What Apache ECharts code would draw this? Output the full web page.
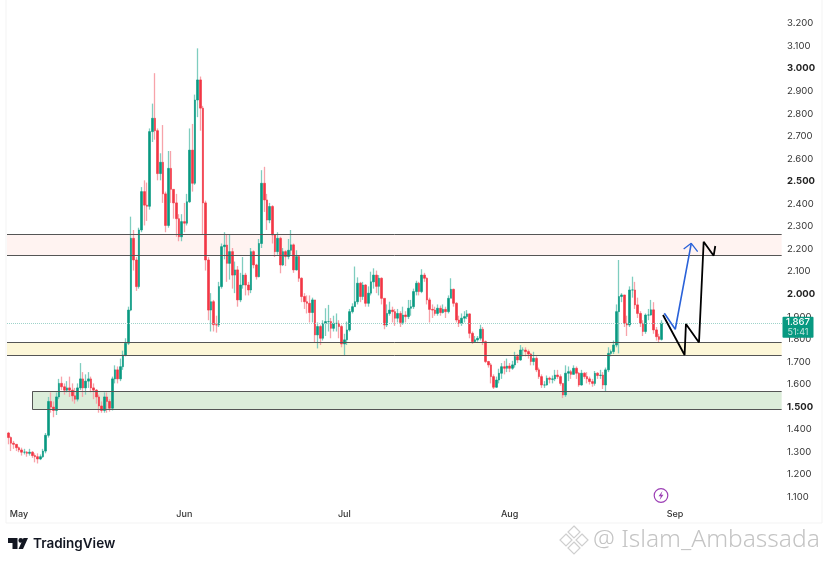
<!DOCTYPE html>
<html><head><meta charset="utf-8">
<style>html,body{margin:0;padding:0;background:#fff}#c{width:829px;height:564px}</style>
<script src="https://cdn.jsdelivr.net/npm/echarts@6/dist/echarts.min.js"></script>
</head><body><div id="c"></div>
<script>
const monthLabels=['May','Jun','Jul','Aug','Sep'];
const monthIndex=[4,66,126,188,250];
const slotCount=291;
const opens=[1.38,1.36,1.335,1.33,1.315,1.305,1.295,1.295,1.29,1.295,1.28,1.275,1.265,1.275,1.30,
1.37,1.52,1.495,1.48,1.54,1.60,1.585,1.57,1.58,1.57,1.545,1.53,1.58,1.62,1.58,
1.61,1.62,1.58,1.57,1.54,1.50,1.48,1.54,1.52,1.49,1.62,1.66,1.62,1.674,1.726,
1.778,1.925,2.243,2.147,2.029,2.28,2.45,2.39,2.385,2.716,2.775,2.72,2.53,2.58,2.44,
2.30,2.553,2.46,2.40,2.33,2.25,2.317,2.31,2.405,2.634,2.487,2.856,2.945,2.82,2.40,
2.147,1.925,1.962,1.86,1.859,2.029,2.206,2.213,2.132,2.184,2.08,2.103,1.97,2.036,2.08,
2.036,2.014,2.184,2.125,2.073,2.22,2.487,2.413,2.324,2.384,2.258,2.184,2.243,2.125,2.184,
2.162,2.19,2.214,2.103,2.162,2.066,1.985,1.962,1.955,1.914,1.97,1.815,1.852,1.80,1.866,
1.874,1.874,1.844,1.866,1.866,1.852,1.775,1.793,1.837,1.918,1.94,1.962,2.044,1.985,2.036,
1.955,2.0,2.05,2.08,2.03,2.066,1.977,1.859,1.91,1.925,1.918,1.889,1.91,1.87,1.903,
1.896,1.933,1.94,2.007,2.044,2.007,2.08,2.066,1.97,1.928,1.925,1.91,1.933,1.914,1.928,
1.918,1.977,2.017,1.955,1.881,1.866,1.889,1.896,1.908,1.822,1.785,1.793,1.80,1.84,1.785,
1.697,1.682,1.63,1.583,1.615,1.645,1.674,1.667,1.677,1.667,1.682,1.719,1.704,1.748,1.748,
1.741,1.73,1.697,1.711,1.66,1.63,1.593,1.593,1.623,1.618,1.62,1.637,1.63,1.60,1.549,
1.645,1.652,1.64,1.667,1.645,1.593,1.645,1.63,1.62,1.608,1.60,1.645,1.635,1.637,1.593,
1.66,1.733,1.741,1.77,1.918,1.985,1.992,1.866,1.859,2.014,2.014,1.948,1.91,1.866,1.83,
1.903,1.903,1.926,1.837,1.807,1.795];
const closes=[1.36,1.335,1.33,1.315,1.305,1.295,1.295,1.29,1.295,1.28,1.275,1.265,1.275,1.30,1.37,
1.52,1.495,1.48,1.54,1.60,1.585,1.57,1.58,1.57,1.545,1.53,1.58,1.62,1.58,1.61,
1.62,1.58,1.57,1.54,1.50,1.48,1.54,1.52,1.49,1.62,1.66,1.62,1.674,1.726,1.778,
1.925,2.243,2.147,2.029,2.28,2.45,2.39,2.385,2.716,2.775,2.72,2.53,2.58,2.44,2.30,
2.553,2.46,2.40,2.33,2.25,2.317,2.31,2.405,2.634,2.487,2.856,2.945,2.82,2.40,2.147,
1.925,1.962,1.86,1.859,2.029,2.206,2.213,2.132,2.184,2.08,2.103,1.97,2.036,2.08,2.036,
2.014,2.184,2.125,2.073,2.22,2.487,2.413,2.324,2.384,2.258,2.184,2.243,2.125,2.184,2.162,
2.19,2.214,2.103,2.162,2.066,1.985,1.962,1.955,1.914,1.97,1.815,1.852,1.80,1.866,1.874,
1.874,1.844,1.866,1.866,1.852,1.775,1.793,1.837,1.918,1.94,1.962,2.044,1.985,2.036,1.955,
2.0,2.05,2.08,2.03,2.066,1.977,1.859,1.91,1.925,1.918,1.889,1.91,1.87,1.903,1.896,
1.933,1.94,2.007,2.044,2.007,2.08,2.066,1.97,1.928,1.925,1.91,1.933,1.914,1.928,1.918,
1.977,2.017,1.955,1.881,1.866,1.889,1.896,1.908,1.822,1.785,1.793,1.80,1.84,1.785,1.697,
1.682,1.63,1.583,1.615,1.645,1.674,1.667,1.677,1.667,1.682,1.719,1.704,1.748,1.748,1.741,
1.73,1.697,1.711,1.66,1.63,1.593,1.593,1.623,1.618,1.62,1.637,1.63,1.60,1.549,1.645,
1.652,1.64,1.667,1.645,1.593,1.645,1.63,1.62,1.608,1.60,1.645,1.635,1.637,1.593,1.66,
1.733,1.741,1.77,1.918,1.985,1.992,1.866,1.859,2.014,2.014,1.948,1.91,1.866,1.83,1.903,
1.903,1.926,1.837,1.807,1.795,1.867];
const highs=[1.385,1.365,1.345,1.33,1.32,1.315,1.31,1.30,1.31,1.30,1.29,1.29,1.285,1.31,1.38,
1.54,1.56,1.52,1.56,1.62,1.63,1.60,1.61,1.63,1.60,1.58,1.60,1.69,1.65,1.64,
1.65,1.63,1.60,1.575,1.55,1.52,1.56,1.56,1.53,1.63,1.68,1.675,1.71,1.745,1.80,
1.94,2.339,2.28,2.16,2.29,2.47,2.50,2.49,2.73,2.84,2.975,2.73,2.62,2.745,2.45,
2.63,2.63,2.46,2.44,2.35,2.35,2.40,2.44,2.73,2.75,2.88,3.085,2.96,2.83,2.41,
2.16,2.0,1.97,1.90,2.05,2.22,2.27,2.26,2.26,2.20,2.14,2.12,2.09,2.16,2.09,
2.05,2.2,2.19,2.13,2.24,2.545,2.56,2.44,2.40,2.39,2.26,2.27,2.25,2.20,2.19,
2.24,2.28,2.22,2.19,2.165,2.07,2.0,1.99,1.99,1.98,1.97,1.87,1.86,1.88,1.933,
1.948,1.89,1.90,1.91,1.88,1.86,1.82,1.874,1.93,1.955,2.118,2.07,2.05,2.05,2.04,
2.03,2.095,2.11,2.10,2.08,2.07,1.948,1.95,1.962,1.94,1.93,1.93,1.92,1.94,1.92,
1.97,1.97,2.02,2.055,2.05,2.106,2.09,2.07,1.98,1.95,1.94,1.95,1.945,1.95,1.94,
1.99,2.066,2.02,1.96,1.90,1.91,1.92,1.925,1.91,1.83,1.81,1.81,1.86,1.85,1.79,
1.70,1.69,1.64,1.63,1.665,1.69,1.70,1.71,1.69,1.70,1.74,1.73,1.77,1.76,1.76,
1.75,1.735,1.74,1.72,1.67,1.64,1.61,1.635,1.63,1.635,1.66,1.66,1.64,1.60,1.68,
1.675,1.66,1.68,1.675,1.65,1.66,1.65,1.65,1.63,1.62,1.655,1.65,1.66,1.65,1.67,
1.76,1.75,1.79,1.95,2.147,2.0,1.99,1.90,2.03,2.073,2.05,1.98,1.92,1.88,1.91,
1.93,1.97,1.96,1.85,1.82,1.88];
const lows=[1.33,1.30,1.31,1.30,1.295,1.28,1.285,1.275,1.28,1.27,1.25,1.245,1.26,1.27,1.29,
1.36,1.47,1.45,1.46,1.53,1.57,1.55,1.56,1.54,1.52,1.51,1.52,1.57,1.54,1.55,
1.58,1.56,1.53,1.51,1.47,1.47,1.47,1.47,1.475,1.48,1.60,1.60,1.61,1.66,1.72,
1.77,1.92,2.10,2.01,2.02,2.27,2.30,2.32,2.37,2.67,2.68,2.50,2.50,2.40,2.27,
2.29,2.40,2.33,2.25,2.23,2.23,2.27,2.30,2.40,2.45,2.48,2.78,2.72,2.26,2.10,
1.88,1.83,1.83,1.825,1.85,2.02,2.15,2.05,2.06,2.02,2.0,1.94,1.96,2.02,1.99,
1.99,2.0,2.11,2.06,2.07,2.20,2.36,2.28,2.31,2.22,2.16,2.17,2.088,2.12,2.12,
2.15,2.17,2.09,2.10,2.05,1.96,1.93,1.91,1.87,1.87,1.78,1.755,1.77,1.79,1.81,
1.83,1.80,1.83,1.83,1.80,1.76,1.725,1.77,1.83,1.91,1.94,1.95,1.96,1.97,1.94,
1.94,1.99,2.02,2.0,1.99,1.95,1.84,1.85,1.90,1.87,1.855,1.87,1.85,1.86,1.87,
1.885,1.90,1.93,1.99,1.99,2.0,2.05,1.95,1.87,1.89,1.90,1.90,1.90,1.91,1.89,
1.91,1.98,1.94,1.87,1.85,1.855,1.87,1.885,1.80,1.775,1.78,1.785,1.79,1.77,1.69,
1.67,1.60,1.575,1.58,1.60,1.62,1.64,1.65,1.65,1.66,1.67,1.69,1.70,1.72,1.72,
1.71,1.68,1.68,1.65,1.62,1.58,1.58,1.59,1.60,1.60,1.61,1.62,1.59,1.535,1.54,
1.61,1.62,1.64,1.62,1.585,1.59,1.62,1.60,1.595,1.585,1.59,1.62,1.62,1.575,1.565,
1.65,1.72,1.73,1.76,1.733,1.96,1.85,1.81,1.85,1.98,1.93,1.89,1.85,1.81,1.82,
1.88,1.90,1.82,1.79,1.78,1.79];
const lastPrice=1.867, countdown='51:41';
const resistanceZone=[2.166,2.261], supportZone=[1.723,1.784], demandZone=[1.485,1.564];
const zoneEnd=290, demandStart=9;
const blackPathX=[245.5,253.6,254.1,259,260.75,264.5,265.1];
const blackPathY=[1.903,1.726,1.863,1.781,2.228,2.166,2.209];
const bluePathX=[246,250.1,256.1];
const bluePathY=[1.911,1.84,2.221];
const blueHeadX=[253.25,256.1,258.5];
const blueHeadY=[2.196,2.221,2.184];

const categories=Array.from({length:slotCount},(_,i)=>{const k=monthIndex.indexOf(i);return k>=0?monthLabels[k]:'';});
const wickData=closes.map((c,i)=>[opens[i],c,lows[i],highs[i]]);
const bodyData=closes.map((c,i)=>[opens[i],c,Math.min(opens[i],c),Math.max(opens[i],c)]);
const zip=(xs,ys)=>xs.map((x,i)=>[x,ys[i]]);
const edge=v=>[{coord:[-0.5,v]},{coord:[zoneEnd,v]}];
const FONT='Inter, Roboto, "Liberation Sans", sans-serif';

const chart=echarts.init(document.getElementById('c'),null,{renderer:'canvas'});
chart.setOption({
 animation:false,backgroundColor:'#fff',
 grid:{left:7,right:46,top:22.4,bottom:67.8,containLabel:false},
 xAxis:[
  {type:'category',data:categories,boundaryGap:true,axisLine:{show:false},axisTick:{show:false},splitLine:{show:false},
   axisLabel:{interval:(i)=>monthIndex.includes(i),margin:14,color:'#333',fontSize:9,fontWeight:500,fontFamily:FONT,hideOverlap:false}},
  {type:'value',min:-0.5,max:slotCount-0.5,show:false,splitLine:{show:false}}
 ],
 yAxis:{type:'value',position:'right',min:1.1,max:3.2,interval:0.1,axisLine:{show:false},axisTick:{show:false},splitLine:{show:false},
  axisLabel:{margin:4,align:'left',fontFamily:FONT,color:'#333',fontSize:9.5,padding:[2,0,0,0],
   formatter:v=>{const s=v.toFixed(3);return Math.round(v*10)%5===0?'{b|'+s+'}':s;},
   rich:{b:{fontWeight:700,color:'#222',fontSize:9.5,fontFamily:FONT}}}},
 series:[
  {type:'line',xAxisIndex:1,data:[],silent:true,symbol:'none',z:1,
   markArea:{silent:true,itemStyle:{borderWidth:0},data:[
     [{coord:[-0.5,resistanceZone[1]],itemStyle:{color:'#fff3f1'}},{coord:[zoneEnd,resistanceZone[0]]}],
     [{coord:[-0.5,supportZone[1]],itemStyle:{color:'#fdf7d8'}},{coord:[zoneEnd,supportZone[0]]}],
     [{coord:[demandStart,demandZone[1]],itemStyle:{color:'#dcedda'}},{coord:[zoneEnd,demandZone[0]]}]
   ]}},
  {type:'candlestick',xAxisIndex:0,data:wickData,barWidth:1,z:3,silent:true,
   itemStyle:{color:'#7fcdbf',color0:'#f7a3aa',borderColor:'#7fcdbf',borderColor0:'#f7a3aa',borderWidth:1.3}},
  {type:'candlestick',xAxisIndex:0,data:bodyData,barWidth:2,z:4,silent:true,
   itemStyle:{color:'#089981',color0:'#f23645',borderColor:'#089981',borderColor0:'#f23645',borderWidth:0.6}},
  {type:'line',xAxisIndex:1,data:[],silent:true,symbol:'none',z:5,
   markLine:{silent:true,symbol:'none',label:{show:false},animation:false,
    lineStyle:{color:'#555',type:'solid',width:1},
    data:[edge(resistanceZone[1]),edge(resistanceZone[0]),edge(supportZone[1]),edge(supportZone[0]),
     [{coord:[demandStart,demandZone[1]]},{coord:[zoneEnd,demandZone[1]]}],
     [{coord:[demandStart,demandZone[0]]},{coord:[zoneEnd,demandZone[0]]}],
     [{coord:[demandStart,demandZone[0]]},{coord:[demandStart,demandZone[1]]}],
     [{coord:[-0.5,lastPrice],lineStyle:{color:'#9fd3ca',type:'dotted',width:1}},{coord:[slotCount-0.5,lastPrice]}]
    ]}},
  {type:'line',xAxisIndex:1,data:zip(blackPathX,blackPathY),symbol:'none',silent:true,z:6,lineStyle:{color:'#000',width:1.8}},
  {type:'line',xAxisIndex:1,data:zip(bluePathX,bluePathY),symbol:'none',silent:true,z:6,lineStyle:{color:'#2a62d9',width:1.6}},
  {type:'line',xAxisIndex:1,data:zip(blueHeadX,blueHeadY),symbol:'none',silent:true,z:6,lineStyle:{color:'#2a62d9',width:1.3}}
 ]
});
const py=chart.convertToPixel({yAxisIndex:0},lastPrice);
chart.setOption({graphic:{elements:[
 {type:'rect',silent:true,z:0,shape:{x:6,y:-2,width:816,height:525},style:{fill:'none',stroke:'#f3f3f3',lineWidth:1}},
 {type:'rect',z:20,shape:{x:782.5,y:py-6.5,width:31,height:21,r:1},style:{fill:'#089981'}},
 {type:'text',z:21,style:{x:798,y:py-1,text:lastPrice.toFixed(3),fill:'#fff',font:'500 9.5px '+FONT,textAlign:'center',textVerticalAlign:'middle'}},
 {type:'text',z:21,style:{x:798,y:py+9,text:countdown,fill:'#bfe5de',font:'9px '+FONT,textAlign:'center',textVerticalAlign:'middle'}},
 {type:'circle',z:10,shape:{cx:661,cy:495.5,r:6.8},style:{fill:'#fff',stroke:'#9c3fb5',lineWidth:1.2}},
 {type:'polygon',z:11,shape:{points:[[662.5,491],[658.5,496.3],[660.8,496.3],[659.7,500],[663.5,494.8],[661.2,494.8]]},style:{fill:'#9c3fb5'}},
 {type:'polygon',z:10,shape:{points:[[8,538],[17.5,538],[17.5,549],[12.5,549],[12.5,543],[8,543]]},style:{fill:'#131722'}},
 {type:'circle',z:10,shape:{cx:20.8,cy:540.4,r:2.4},style:{fill:'#131722'}},
 {type:'polygon',z:10,shape:{points:[[23.5,538],[28,538],[23,549],[18.5,549]]},style:{fill:'#131722'}},
 {type:'text',z:10,style:{x:33,y:544,text:'TradingView',fill:'#131722',font:'600 13.5px '+FONT,textVerticalAlign:'middle'}},
 {type:'text',z:10,style:{x:593,y:540,text:'@ Islam_Ambassada',fill:'#c4c4c4',font:'300 24.5px "Noto Sans", '+FONT,textVerticalAlign:'middle'}},
 {type:'polygon',z:10,shape:{points:[[574,526],[580,532],[574,538],[568,532]]},style:{fill:'none',stroke:'#cfcfcf',lineWidth:1.2}},
 {type:'polygon',z:10,shape:{points:[[574,542],[580,548],[574,554],[568,548]]},style:{fill:'none',stroke:'#cfcfcf',lineWidth:1.2}},
 {type:'polygon',z:10,shape:{points:[[566,534],[572,540],[566,546],[560,540]]},style:{fill:'none',stroke:'#cfcfcf',lineWidth:1.2}},
 {type:'polygon',z:10,shape:{points:[[582,534],[588,540],[582,546],[576,540]]},style:{fill:'none',stroke:'#cfcfcf',lineWidth:1.2}}
]}});
</script></body></html>
